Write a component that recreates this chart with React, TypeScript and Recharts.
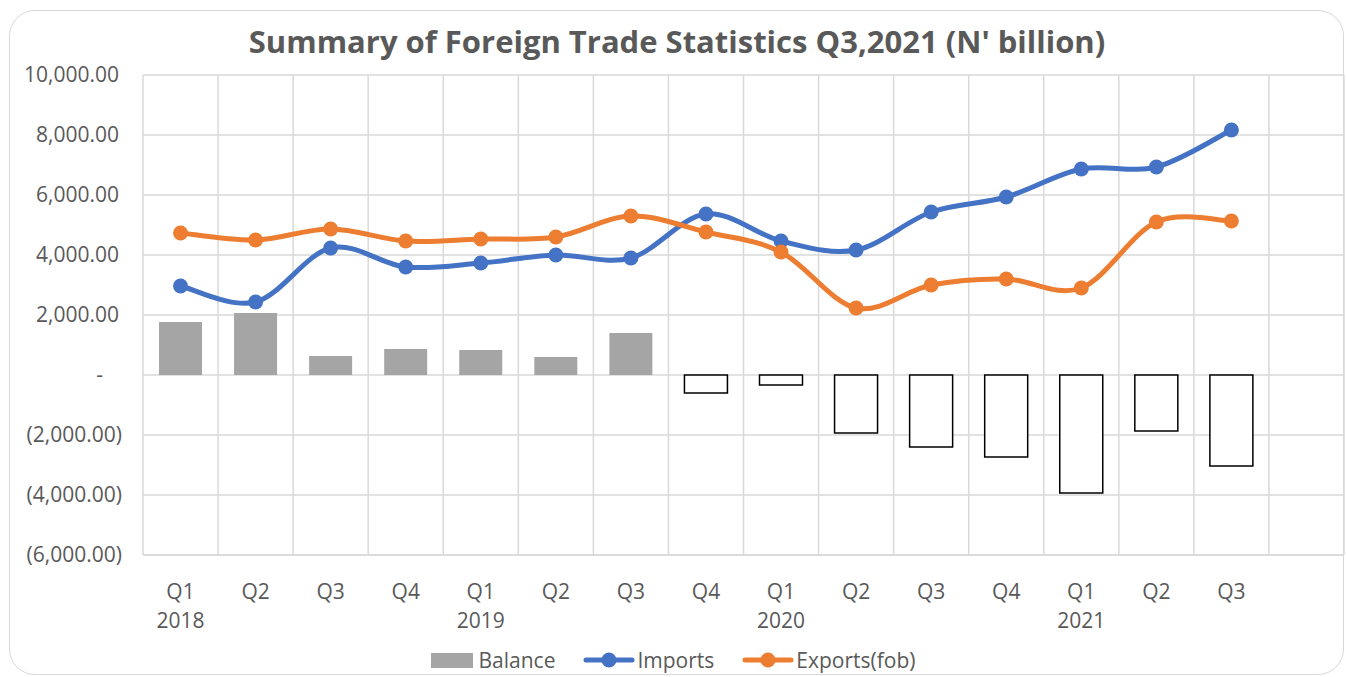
import React from "react";
import {
  ComposedChart,
  Bar,
  Line,
  XAxis,
  YAxis,
  CartesianGrid,
  Cell,
} from "recharts";

const quarters = ["Q1", "Q2", "Q3", "Q4", "Q1", "Q2", "Q3", "Q4", "Q1", "Q2", "Q3", "Q4", "Q1", "Q2", "Q3", ""];
const years = ["2018", "", "", "", "2019", "", "", "", "2020", "", "", "", "2021", "", "", ""];
const imports = [2967, 2433, 4233, 3600, 3733, 4000, 3900, 5367, 4467, 4167, 5433, 5933, 6867, 6933, 8167];
const exportsFob = [4733, 4500, 4867, 4467, 4533, 4600, 5300, 4767, 4100, 2233, 3000, 3200, 2900, 5100, 5133];
const balance = [1767, 2067, 633, 867, 833, 600, 1400, -600, -333, -1933, -2400, -2733, -3933, -1867, -3033];
const yTicks = [-6000, -4000, -2000, 0, 2000, 4000, 6000, 8000, 10000];

const data = quarters.map((q, i) => ({
  key: i,
  quarter: q,
  year: years[i],
  balance: i < balance.length ? balance[i] : null,
  imports: i < imports.length ? imports[i] : null,
  exports: i < exportsFob.length ? exportsFob[i] : null,
}));

const FONT = "'Open Sans', 'DejaVu Sans', sans-serif";
const TEXT = "#595959";
const GRID = "#d9d9d9";
const BLUE = "#4472c4";
const ORANGE = "#ed7d31";
const GRAY = "#a5a5a5";

// Excel-like smooth curve (Catmull-Rom through the points)
function excelCurve(context: any) {
  let pts: number[][] = [];
  return {
    areaStart() {},
    areaEnd() {},
    lineStart() {
      pts = [];
    },
    lineEnd() {
      if (!pts.length) return;
      context.moveTo(pts[0][0], pts[0][1]);
      for (let i = 0; i < pts.length - 1; i++) {
        const p0 = pts[i - 1] || pts[i];
        const p1 = pts[i];
        const p2 = pts[i + 1];
        const p3 = pts[i + 2] || pts[i + 1];
        context.bezierCurveTo(
          p1[0] + (p2[0] - p0[0]) / 6,
          p1[1] + (p2[1] - p0[1]) / 6,
          p2[0] - (p3[0] - p1[0]) / 6,
          p2[1] - (p3[1] - p1[1]) / 6,
          p2[0],
          p2[1]
        );
      }
    },
    point(x: number, y: number) {
      pts.push([+x, +y]);
    },
  };
}

const fmt = (v: number) =>
  Math.abs(v).toLocaleString("en-US", { minimumFractionDigits: 2, maximumFractionDigits: 2 });

const YTick = (props: any) => {
  const { x, y, payload } = props;
  const v = payload.value;
  let label = fmt(v);
  let dx = 0;
  if (v === 0) {
    label = "-";
    dx = -16;
  } else if (v < 0) {
    label = `(${label})`;
    dx = 3;
  }
  return (
    <text x={x + dx} y={y} dy="0.35em" textAnchor="end" fill={TEXT} fontSize={21} fontFamily={FONT}>
      {label}
    </text>
  );
};

const XTick = (props: any) => {
  const { x, y, payload, index } = props;
  const d = data[index] || null;
  const yr = d ? d.year : "";
  return (
    <g>
      <text x={x} y={y + 29} dy="0.35em" textAnchor="middle" fill={TEXT} fontSize={21} fontFamily={FONT}>
        {payload.value}
      </text>
      {yr ? (
        <text x={x} y={y + 58} dy="0.35em" textAnchor="middle" fill={TEXT} fontSize={21} fontFamily={FONT}>
          {yr}
        </text>
      ) : null}
    </g>
  );
};

const LegendBlock = () => (
  <div
    style={{
      position: "absolute",
      left: 0,
      top: 646,
      width: 1346,
      display: "flex",
      justifyContent: "center",
      alignItems: "center",
      fontFamily: FONT,
      fontSize: 21,
      color: TEXT,
      gap: 28,
      lineHeight: "28px",
    }}
  >
    <div style={{ display: "flex", alignItems: "center" }}>
      <span style={{ display: "inline-block", width: 42, height: 15, background: GRAY, marginRight: 6 }} />
      <span>Balance</span>
    </div>
    <div style={{ display: "flex", alignItems: "center" }}>
      <svg width={52} height={18} style={{ marginRight: 2 }}>
        <line x1={3} y1={9} x2={49} y2={9} stroke={BLUE} strokeWidth={5} strokeLinecap="round" />
        <circle cx={26} cy={9} r={7.5} fill={BLUE} />
      </svg>
      <span>Imports</span>
    </div>
    <div style={{ display: "flex", alignItems: "center" }}>
      <svg width={52} height={18} style={{ marginRight: 2 }}>
        <line x1={3} y1={9} x2={49} y2={9} stroke={ORANGE} strokeWidth={5} strokeLinecap="round" />
        <circle cx={26} cy={9} r={7.5} fill={ORANGE} />
      </svg>
      <span>Exports(fob)</span>
    </div>
  </div>
);

export default function App() {
  return (
    <div style={{ position: "absolute", left: 0, top: 0, width: 1346, height: 677, background: "#fff", overflow: "hidden" }}>
      <div
        style={{
          position: "absolute",
          left: 9,
          top: 10,
          width: 1335,
          height: 665,
          border: `1.5px solid ${GRID}`,
          borderRadius: 26,
          boxSizing: "border-box",
        }}
      />
      <div
        style={{
          position: "absolute",
          left: 0,
          top: 18,
          width: 1354,
          textAlign: "center",
          fontFamily: FONT,
          fontWeight: 700,
          fontSize: 31,
          color: TEXT,
          lineHeight: "46px",
        }}
      >
        Summary of Foreign Trade Statistics Q3,2021 (N' billion)
      </div>
      <div style={{ position: "absolute", left: 0, top: 0 }}>
        <ComposedChart
          width={1346}
          height={677}
          data={data}
          margin={{ top: 75, right: 2, bottom: 0, left: 0 }}
          barCategoryGap={0}
        >
          <CartesianGrid
            stroke={GRID}
            strokeWidth={1.5}
            verticalCoordinatesGenerator={({ offset }: any) => {
              const n = data.length;
              const w = offset.width / n;
              return Array.from({ length: n + 1 }, (_, i) => offset.left + i * w);
            }}
          />
          <XAxis
            dataKey="quarter"
            tick={<XTick />}
            tickLine={false}
            axisLine={{ stroke: GRID, strokeWidth: 1.5 }}
            interval={0}
            height={122}
          />
          <YAxis
            domain={[-6000, 10000]}
            ticks={yTicks}
            tick={<YTick />}
            tickLine={false}
            axisLine={false}
            width={143}
            tickMargin={18}
            allowDataOverflow
          />
          <Bar dataKey="balance" barSize={43} isAnimationActive={false}>
            {data.map((d, i) => (
              <Cell
                key={i}
                fill={d.balance !== null && d.balance < 0 ? "#ffffff" : GRAY}
                stroke={d.balance !== null && d.balance < 0 ? "#000000" : "none"}
                strokeWidth={d.balance !== null && d.balance < 0 ? 1.5 : 0}
              />
            ))}
          </Bar>
          <Line
            dataKey="imports"
            type={excelCurve as any}
            stroke={BLUE}
            strokeWidth={5}
            dot={{ r: 7.5, fill: BLUE, stroke: BLUE, strokeWidth: 0 }}
            activeDot={false}
            isAnimationActive={false}
          />
          <Line
            dataKey="exports"
            type={excelCurve as any}
            stroke={ORANGE}
            strokeWidth={5}
            dot={{ r: 7.5, fill: ORANGE, stroke: ORANGE, strokeWidth: 0 }}
            activeDot={false}
            isAnimationActive={false}
          />
        </ComposedChart>
      </div>
      <LegendBlock />
    </div>
  );
}
